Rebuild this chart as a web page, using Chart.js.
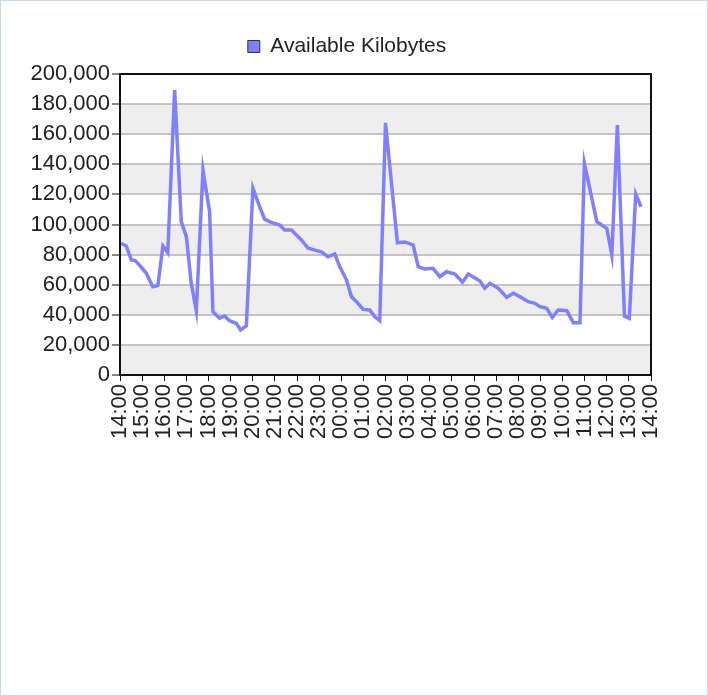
<!DOCTYPE html>
<html>
<head>
<meta charset="utf-8">
<script src="https://cdn.jsdelivr.net/npm/chart.js@4/dist/chart.umd.min.js"></script>
<style>
  html, body { margin: 0; padding: 0; background: #fff; }
  #wrap { width: 708px; height: 696px; position: relative; }
</style>
</head>
<body>
<div id="wrap"><canvas id="c" width="708" height="696"></canvas></div>
<script>
// Hours elapsed since 14:00
const hours = [0.05,0.28,0.51,0.69,0.88,1.19,1.48,1.71,1.94,2.16,2.47,2.77,3.00,3.22,3.45,3.75,4.05,4.20,4.50,4.73,4.95,5.26,5.45,5.71,6.01,6.31,6.54,6.84,7.22,7.44,7.75,8.20,8.50,8.80,9.10,9.40,9.71,9.93,10.24,10.46,10.69,10.99,11.29,11.52,11.74,12.00,12.54,12.87,13.25,13.48,13.78,14.15,14.46,14.76,15.14,15.48,15.74,16.04,16.27,16.49,16.72,17.10,17.48,17.78,18.15,18.45,18.76,18.98,19.29,19.54,19.81,20.19,20.49,20.79,20.99,21.55,21.77,22.00,22.23,22.48,22.80,23.02,23.31,23.55];
const availableKB = [87500,85700,76400,76000,73000,67600,58700,59400,85700,81300,189400,101900,91900,60900,42700,136200,108500,42000,37700,39200,36100,34300,29900,32600,124000,111800,103400,101400,99700,96300,96300,89700,84200,83000,81900,78600,80400,72000,63100,52000,48700,43600,43200,38700,36100,167500,87900,88400,86400,72000,70400,70900,65300,68600,67100,61600,67100,64500,62500,57600,60900,57600,51600,54300,51400,48700,47600,45400,44300,38300,43200,42700,34800,34800,140700,101900,99700,97500,79700,166100,39200,37700,120300,111800];
const hourLabels = ['14:00','15:00','16:00','17:00','18:00','19:00','20:00','21:00','22:00','23:00','00:00','01:00','02:00','03:00','04:00','05:00','06:00','07:00','08:00','09:00','10:00','11:00','12:00','13:00','14:00'];
const seriesName = 'Available Kilobytes';

const points = hours.map((h, i) => ({ x: h, y: availableKB[i] }));

const FONT = "'Liberation Sans', Arial, sans-serif";
Chart.defaults.font.family = FONT;
Chart.defaults.font.size = 21;
Chart.defaults.color = '#222';

const decor = {
  id: 'decor',
  beforeLayout(chart) {
    const lg = chart.legend;
    if (lg && !lg._patched) {
      const orig = lg.fit.bind(lg);
      lg.fit = function () { orig(); this.height += 7; };
      lg._patched = true;
    }
  },
  afterLayout(chart) {
    if (chart.legend) chart.legend.left += 43;
  },
  beforeDraw(chart) {
    const { ctx, chartArea: a, scales: { y } } = chart;
    ctx.save();
    ctx.fillStyle = '#ffffff';
    ctx.fillRect(0, 0, chart.width, chart.height);
    ctx.strokeStyle = '#c5dbef';
    ctx.lineWidth = 1;
    ctx.strokeRect(0.5, 0.5, chart.width - 1, chart.height - 1);
    ctx.fillStyle = '#eeeeee';
    for (let v = 0; v < 200000; v += 40000) {
      const t = y.getPixelForValue(v + 20000), b = y.getPixelForValue(v);
      ctx.fillRect(a.left, t, a.right - a.left, b - t);
    }
    ctx.restore();
  },
  afterDraw(chart) {
    const { ctx, chartArea: a } = chart;
    ctx.save();
    ctx.strokeStyle = '#111';
    ctx.lineWidth = 2;
    ctx.strokeRect(a.left, a.top, a.right - a.left, a.bottom - a.top);
    ctx.restore();
  }
};

new Chart(document.getElementById('c'), {
  type: 'line',
  data: {
    datasets: [{
      label: seriesName,
      data: points,
      borderColor: '#8080ff',
      backgroundColor: '#8080ff',
      borderWidth: 3.5,
      pointRadius: 0,
      tension: 0,
      fill: false
    }]
  },
  options: {
    responsive: false,
    animation: false,
    layout: { padding: { top: 16, right: 57, bottom: 0, left: 0 } },
    plugins: {
      legend: {
        position: 'top',
        labels: {
          boxWidth: 12,
          boxHeight: 12,
          padding: 20,
          color: '#222',
          font: { family: FONT, size: 21 },
          generateLabels: () => [{
            text: seriesName, fillStyle: '#8080ff', strokeStyle: '#333',
            lineWidth: 1, hidden: false, datasetIndex: 0, fontColor: '#222'
          }]
        }
      },
      tooltip: { enabled: false }
    },
    scales: {
      x: {
        type: 'linear',
        min: 0, max: 24,
        afterFit(s) { s.height = 321; },
        ticks: {
          stepSize: 1, autoSkip: false, maxRotation: 90, minRotation: 90,
          padding: 3, color: '#222', font: { family: FONT, size: 22 },
          callback: (v) => hourLabels[v]
        },
        grid: { drawOnChartArea: false, drawTicks: true, tickLength: 6, tickColor: '#111', tickWidth: 1 },
        border: { display: false }
      },
      y: {
        min: 0, max: 200000,
        afterFit(s) { s.width = 120; },
        ticks: {
          stepSize: 20000, padding: 2, color: '#222', font: { family: FONT, size: 22 },
          callback: (v) => v.toLocaleString('en-US')
        },
        grid: { color: '#c4c4c4', lineWidth: 2, tickLength: 8, tickColor: '#111', tickWidth: 1 },
        border: { display: false }
      }
    }
  },
  plugins: [decor]
});
</script>
</body>
</html>
